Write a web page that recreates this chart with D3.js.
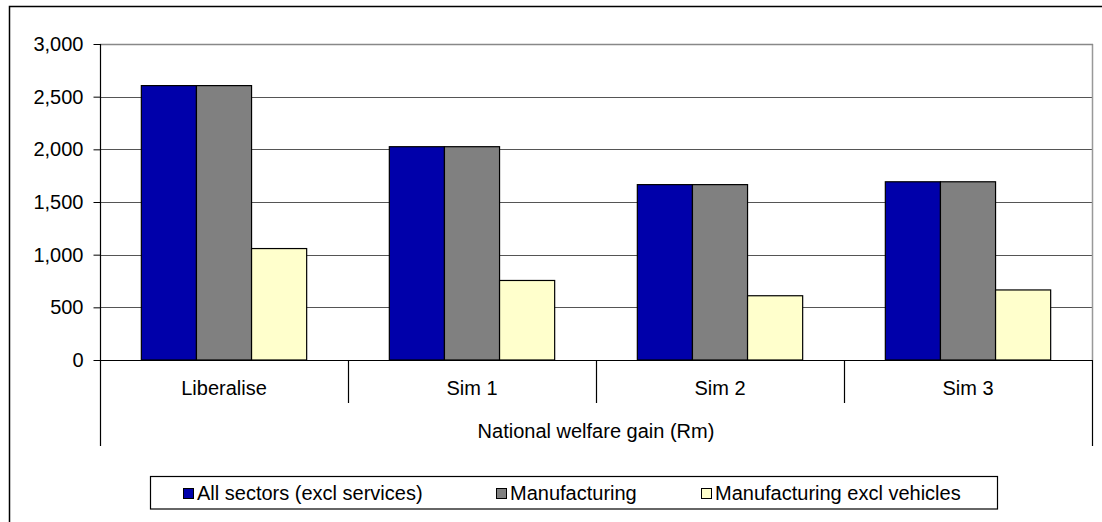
<!DOCTYPE html>
<html>
<head>
<meta charset="utf-8">
<script src="https://cdn.jsdelivr.net/npm/d3@7"></script>
<style>
  body { margin: 0; background: #fff; }
  svg { display: block; }
  text { font-family: "Liberation Sans", Arial, sans-serif; font-size: 20px; fill: #000; }
</style>
</head>
<body>
<svg id="chart"></svg>
<script>
// data
var categories = ["Liberalise", "Sim 1", "Sim 2", "Sim 3"];
var seriesNames = ["All sectors (excl services)", "Manufacturing", "Manufacturing excl vehicles"];
var allSectors = [2605, 2025, 1665, 1692];
var manufacturing = [2605, 2025, 1665, 1692];
var manufExclVehicles = [1058, 755, 610, 665];
var yTicks = [0, 500, 1000, 1500, 2000, 2500, 3000];
var groupLabel = "National welfare gain (Rm)";

var colors = ["#0000aa", "#808080", "#ffffcc"];
var seriesValues = [allSectors, manufacturing, manufExclVehicles];

var W = 1102, H = 522;
var plot = {left: 100, right: 1092, top: 44, bottom: 360};

var svg = d3.select("#chart").attr("width", W).attr("height", H);

// outer chart border (runs past the window on right and bottom)
svg.append("rect")
  .attr("x", 9.5).attr("y", 6.5)
  .attr("width", W + 20).attr("height", H + 20)
  .attr("fill", "#fff").attr("stroke", "#000").attr("stroke-width", 1.5);

var y = d3.scaleLinear().domain([0, 3000]).range([plot.bottom, plot.top]);
var x = d3.scaleBand().domain(categories).range([plot.left, plot.right]);
var x1 = d3.scaleBand().domain(d3.range(seriesNames.length))
  .range([0, x.bandwidth()]).paddingInner(0).paddingOuter(0.75);

// gridlines
svg.append("g")
  .selectAll("line")
  .data(yTicks.filter(function(d) { return d > 0; }))
  .enter().append("line")
  .attr("x1", plot.left).attr("x2", plot.right)
  .attr("y1", function(d) { return Math.round(y(d)) + 0.5; })
  .attr("y2", function(d) { return Math.round(y(d)) + 0.5; })
  .attr("stroke", "#555").attr("stroke-width", 1.2);

// right border of plot area
svg.append("line")
  .attr("x1", plot.right + 0.5).attr("x2", plot.right + 0.5)
  .attr("y1", plot.top).attr("y2", plot.bottom)
  .attr("stroke", "#999").attr("stroke-width", 1.5);
svg.append("line")
  .attr("x1", plot.left).attr("x2", plot.right + 1)
  .attr("y1", plot.top + 0.5).attr("y2", plot.top + 0.5)
  .attr("stroke", "#888").attr("stroke-width", 1.5);

// bars
var rows = categories.map(function(c, i) {
  return seriesValues.map(function(vals, s) { return {cat: c, s: s, v: vals[i]}; });
});
svg.append("g")
  .selectAll("g")
  .data(rows)
  .enter().append("g")
  .attr("transform", function(d) { return "translate(" + x(d[0].cat) + ",0)"; })
  .selectAll("rect")
  .data(function(d) { return d; })
  .enter().append("rect")
  .attr("x", function(d) { return x1(d.s); })
  .attr("width", x1.bandwidth())
  .attr("y", function(d) { return y(d.v); })
  .attr("height", function(d) { return y(0) - y(d.v); })
  .attr("fill", function(d) { return colors[d.s]; })
  .attr("stroke", "#000").attr("stroke-width", 1.2);

// y axis
var yAxis = svg.append("g")
  .attr("transform", "translate(" + (plot.left + 0.5) + ",0)")
  .call(d3.axisLeft(y).tickValues(yTicks).tickFormat(d3.format(",")).tickSize(7).tickPadding(10));
yAxis.select(".domain").remove();
yAxis.selectAll("line").attr("stroke", "#000");
yAxis.selectAll("text").style("font-size", "20px").attr("font-family", null);

// left axis line running down through the category label area
svg.append("line")
  .attr("x1", plot.left + 0.5).attr("x2", plot.left + 0.5)
  .attr("y1", plot.top).attr("y2", 446)
  .attr("stroke", "#000").attr("stroke-width", 1.2);
svg.append("line")
  .attr("x1", plot.right + 0.5).attr("x2", plot.right + 0.5)
  .attr("y1", plot.bottom).attr("y2", 446)
  .attr("stroke", "#000").attr("stroke-width", 1.2);

// category axis line
svg.append("line")
  .attr("x1", plot.left).attr("x2", plot.right + 1)
  .attr("y1", y(0) + 0.5).attr("y2", y(0) + 0.5)
  .attr("stroke", "#000").attr("stroke-width", 1.2);

// separators between categories
svg.append("g")
  .selectAll("line")
  .data(categories.slice(1))
  .enter().append("line")
  .attr("x1", function(d) { return Math.round(x(d)) + 0.5; })
  .attr("x2", function(d) { return Math.round(x(d)) + 0.5; })
  .attr("y1", y(0)).attr("y2", 403)
  .attr("stroke", "#000").attr("stroke-width", 1.2);

// category labels
svg.append("g")
  .selectAll("text")
  .data(categories)
  .enter().append("text")
  .attr("x", function(d) { return x(d) + x.bandwidth() / 2; })
  .attr("y", 395)
  .attr("text-anchor", "middle")
  .text(function(d) { return d; });

svg.append("text")
  .attr("x", (plot.left + plot.right) / 2)
  .attr("y", 438)
  .attr("text-anchor", "middle")
  .text(groupLabel);

// legend
var legendX = [183, 496, 701];
svg.append("rect")
  .attr("x", 150.5).attr("y", 476.5)
  .attr("width", 847).attr("height", 32.5)
  .attr("fill", "#fff").attr("stroke", "#000").attr("stroke-width", 1.2);

var item = svg.append("g")
  .selectAll("g")
  .data(seriesNames)
  .enter().append("g")
  .attr("transform", function(d, i) { return "translate(" + legendX[i] + ",0)"; });
item.append("rect")
  .attr("x", 0.5).attr("y", 488.5)
  .attr("width", 10).attr("height", 10)
  .attr("fill", function(d, i) { return colors[i]; })
  .attr("stroke", "#000").attr("stroke-width", 1);
item.append("text")
  .attr("x", 14).attr("y", 500)
  .text(function(d) { return d; });
</script>
</body>
</html>
